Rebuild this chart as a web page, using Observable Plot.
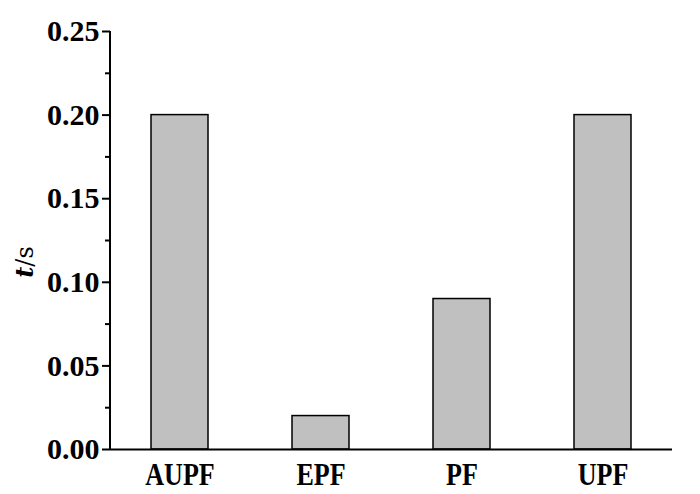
<!DOCTYPE html>
<html>
<head>
<meta charset="utf-8">
<script src="https://cdn.jsdelivr.net/npm/d3@7"></script>
<script src="https://cdn.jsdelivr.net/npm/@observablehq/plot@0.6"></script>
<style>
  html, body { margin: 0; padding: 0; background: #fff; }
</style>
</head>
<body>
<div id="chart"></div>
<script>
const categories = ["AUPF", "EPF", "PF", "UPF"];
const values = [0.20, 0.02, 0.09, 0.20];
const yTicks = [0.00, 0.05, 0.10, 0.15, 0.20, 0.25];
const yMinorTicks = [0.025, 0.075, 0.125, 0.175, 0.225];

const data = categories.map((c, i) => ({category: c, value: values[i]}));

const leftAxisLine = (index, scales, vals, dims) => {
  const g = d3.create("svg:g");
  g.append("line")
    .attr("x1", dims.marginLeft).attr("x2", dims.marginLeft)
    .attr("y1", scales.y(0) + 1).attr("y2", scales.y(0.25))
    .attr("stroke", "black").attr("stroke-width", 2);
  return g.node();
};

const chart = Plot.plot({
  width: 700,
  height: 494,
  marginLeft: 110,
  marginRight: 28,
  marginTop: 31,
  marginBottom: 45,
  style: {fontFamily: "'Liberation Serif', 'Times New Roman', serif", fontWeight: "bold", color: "black", background: "white"},
  x: {domain: categories, paddingInner: 0.595, paddingOuter: 0.29, label: null},
  y: {domain: [0, 0.25], label: null},
  marks: [
    Plot.barY(data, {x: "category", y: "value", fill: "#c0c0c0", stroke: "black", strokeWidth: 1.5}),
    Plot.ruleY([0], {stroke: "black", strokeWidth: 2}),
    leftAxisLine,
    Plot.axisY({ticks: yTicks, tickSize: 8, tickPadding: 3, tickFormat: d => d.toFixed(2), fontSize: 30, strokeWidth: 2, label: null}),
    Plot.axisY({ticks: yMinorTicks, tickSize: 5, tickFormat: () => "", strokeWidth: 2, label: null}),
    Plot.axisX({tickSize: 0, tickPadding: 13, fontSize: 31, label: null})
  ]
});

document.getElementById("chart").appendChild(chart);

// condense x tick labels to match the narrow bold face of the reference
d3.select(chart).selectAll('g[aria-label="x-axis tick label"] text').each(function() {
  const len = this.getComputedTextLength();
  this.setAttribute("textLength", (len * 0.84).toFixed(1));
  this.setAttribute("lengthAdjust", "spacingAndGlyphs");
});

// y-axis title: t/s with italic t
const title = d3.select(chart).append("text")
  .attr("transform", "translate(33,262) rotate(-90)")
  .attr("text-anchor", "middle")
  .style("font-family", "'DejaVu Serif', serif")
  .attr("font-size", 24)
  .attr("fill", "black");
title.append("tspan").style("font-style", "italic").style("font-weight", "bold").text("t");
title.append("tspan").style("font-weight", "normal").text("/s");
</script>
</body>
</html>
